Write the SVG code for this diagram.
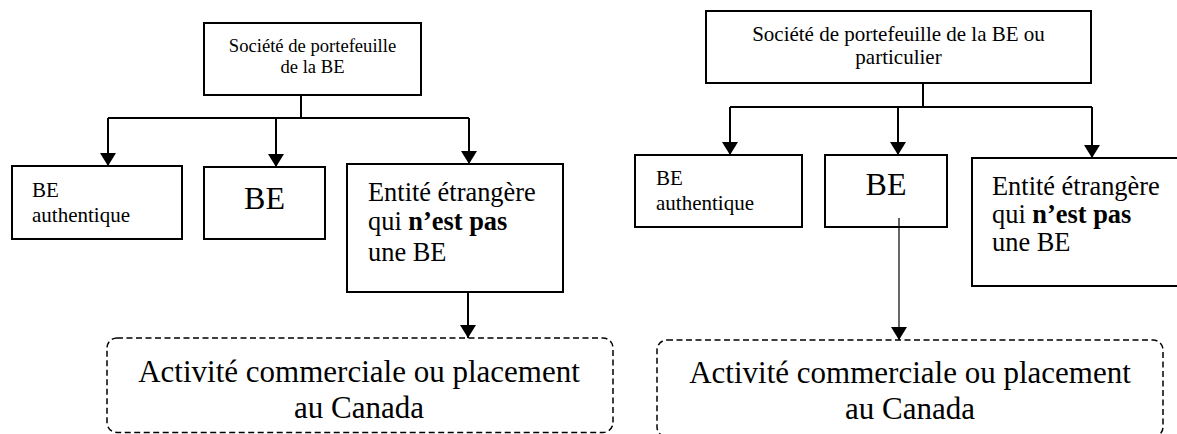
<svg xmlns="http://www.w3.org/2000/svg" width="1177" height="434" viewBox="0 0 1177 434">
<style>
  .box { fill: #fff; stroke: #000; stroke-width: 2; }
  .dash { fill: none; stroke: #000; stroke-width: 1.5; stroke-dasharray: 6 3.5; }
  .conn { fill: none; stroke: #000; stroke-width: 2; }
  .thin { fill: none; stroke: #000; stroke-width: 1.2; }
  text { font-family: "Liberation Serif", "Times New Roman", serif; fill: #000; }
  .t19 { font-size: 18.6px; }
  .t20 { font-size: 21px; }
  .t21 { font-size: 21px; }
  .t26 { font-size: 26.4px; }
  .t32 { font-size: 32px; }
  .t31 { font-size: 31px; }
  .b { font-weight: bold; }
</style>
<defs>
  <marker id="ah" markerUnits="userSpaceOnUse" markerWidth="14" markerHeight="16" refX="13" refY="8" orient="auto">
    <path d="M0,0 L13,8 L0,16 z" fill="#000"/>
  </marker>
</defs>

<g id="connectors">
  <!-- left -->
  <path class="conn" d="M301,95 V118"/>
  <path class="conn" d="M108,118 H469"/>
  <path class="conn" d="M108,118 V166" marker-end="url(#ah)"/>
  <path class="conn" d="M276,118 V167" marker-end="url(#ah)"/>
  <path class="conn" d="M469,118 V164" marker-end="url(#ah)"/>
  <path class="conn" d="M468,292 V338" marker-end="url(#ah)"/>
  <!-- right -->
  <path class="conn" d="M923,83 V107"/>
  <path class="conn" d="M730,107 H1092"/>
  <path class="conn" d="M730,107 V155" marker-end="url(#ah)"/>
  <path class="conn" d="M898,107 V155" marker-end="url(#ah)"/>
  <path class="conn" d="M1092,107 V158" marker-end="url(#ah)"/>
</g>

<!-- LEFT DIAGRAM -->
<g id="left-holding">
  <rect class="box" x="204" y="23" width="217" height="72"/>
  <text class="t19" text-anchor="middle" x="312.5" y="52">Société de portefeuille</text>
  <text class="t19" text-anchor="middle" x="312.5" y="73">de la BE</text>
</g>
<g id="left-be-authentique">
  <rect class="box" x="12" y="166" width="170" height="73"/>
  <text class="t21" x="32" y="197">BE</text>
  <text class="t21" x="32" y="222">authentique</text>
</g>
<g id="left-be">
  <rect class="box" x="204" y="167" width="121" height="72"/>
  <text class="t32" text-anchor="middle" x="264.5" y="209">BE</text>
</g>
<g id="left-entite">
  <rect class="box" x="347" y="164" width="216" height="128"/>
  <text class="t26" x="368" y="201">Entité étrangère</text>
  <text class="t26" x="368" y="230">qui <tspan class="b">n’est pas</tspan></text>
  <text class="t26" x="368" y="261">une BE</text>
</g>
<g id="left-activite">
  <rect class="dash" x="107" y="338" width="506" height="94.5" rx="10" ry="10"/>
  <text class="t31" text-anchor="middle" x="359" y="382">Activité commerciale ou placement</text>
  <text class="t31" text-anchor="middle" x="359" y="418">au Canada</text>
</g>

<!-- RIGHT DIAGRAM -->
<g id="right-holding">
  <rect class="box" x="706" y="11" width="385" height="72"/>
  <text class="t20" text-anchor="middle" x="898.5" y="41">Société de portefeuille de la BE ou</text>
  <text class="t20" text-anchor="middle" x="898.5" y="64">particulier</text>
</g>
<g id="right-be-authentique">
  <rect class="box" x="635" y="155" width="167" height="72"/>
  <text class="t21" x="656" y="185">BE</text>
  <text class="t21" x="656" y="210">authentique</text>
</g>
<g id="right-be">
  <rect class="box" x="825" y="155" width="122" height="72"/>
  <text class="t32" text-anchor="middle" x="886" y="195">BE</text>
  <path class="thin" d="M899,218 V340" marker-end="url(#ah)"/>
</g>
<g id="right-entite">
  <rect class="box" x="972" y="158" width="210" height="128"/>
  <text class="t26" x="992" y="195">Entité étrangère</text>
  <text class="t26" x="992" y="223">qui <tspan class="b">n’est pas</tspan></text>
  <text class="t26" x="992" y="251">une BE</text>
</g>
<g id="right-activite">
  <rect class="dash" x="657" y="340" width="506" height="97" rx="10" ry="10"/>
  <text class="t31" text-anchor="middle" x="910" y="383">Activité commerciale ou placement</text>
  <text class="t31" text-anchor="middle" x="910" y="419">au Canada</text>
</g>
</svg>
